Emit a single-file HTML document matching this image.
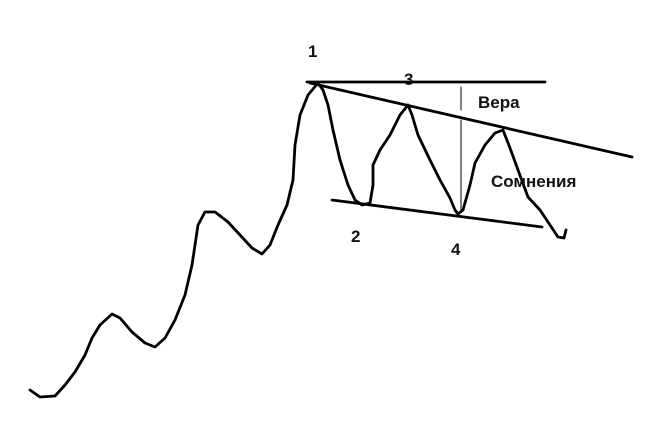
<!DOCTYPE html>
<html><head><meta charset="utf-8"><style>html,body{margin:0;padding:0;background:#fff}svg{display:block}text{font-family:"Liberation Sans",sans-serif;font-weight:bold;font-size:17px;fill:#111}</style></head>
<body>
<svg width="661" height="437" viewBox="0 0 661 437" xmlns="http://www.w3.org/2000/svg">
<g fill="none" stroke="#000" stroke-linecap="round" stroke-linejoin="round">
<polyline stroke-width="2.8" points="30,390 40,397 55,396 65,385 75,372 85,355 92,338 100,325 112,314 120,318 132,332 145,343 155,347 165,338 175,320 185,295 192,265 198,225 205,212 215,212 228,222 240,235 252,248 262,254 270,245 278,225 287,205 293,180 295,145 300,115 308,95 318,83 323,90 328,105 333,130 340,160 348,185 355,200 362,205 370,203 373,185 373,165 380,150 390,135 400,115 408,105 412,115 418,135 430,160 440,180 450,198 455,210 458,214 463,210 470,185 475,163 485,145 495,133 503,130 510,148 518,170 528,197 540,210 550,225 558,237 564,238 566,230"/>
<line x1="307" y1="82" x2="545" y2="82" stroke-width="2.8"/>
<line x1="310" y1="83" x2="632" y2="157" stroke-width="2.8"/>
<line x1="332" y1="200" x2="542" y2="227" stroke-width="2.8"/>
<line x1="461" y1="87" x2="461" y2="110" stroke-width="1"/>
<line x1="461" y1="120" x2="461" y2="213" stroke-width="1"/>
</g>
<text x="308" y="57">1</text>
<text x="404" y="85">3</text>
<text x="351" y="242">2</text>
<text x="451" y="255">4</text>
<text x="478" y="108">Вера</text>
<text x="491" y="187">Сомнения</text>
</svg>
</body></html>
